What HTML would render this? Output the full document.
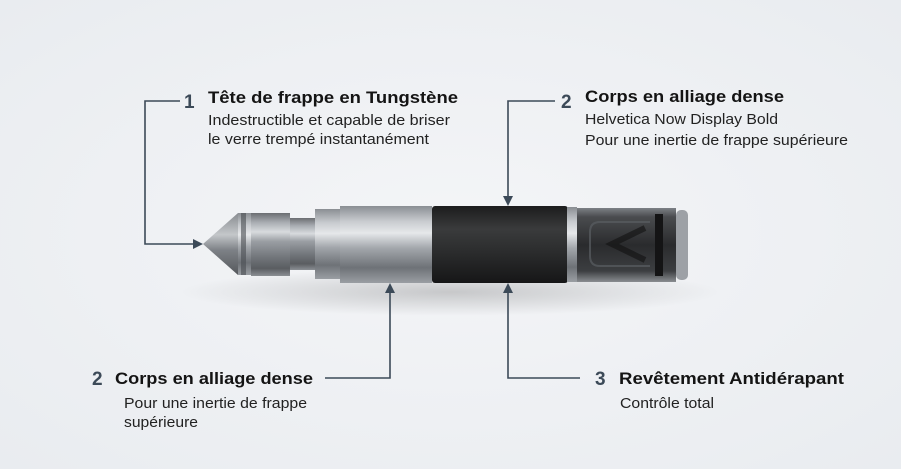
<!DOCTYPE html>
<html><head><meta charset="utf-8"><style>
html,body{margin:0;padding:0;width:901px;height:469px;overflow:hidden;background:#eef0f3}
svg{display:block}
text{font-family:"Liberation Sans",sans-serif}
</style></head><body>
<svg width="901" height="469" viewBox="0 0 901 469" xmlns="http://www.w3.org/2000/svg">
<defs>
<radialGradient id="bg" cx="50%" cy="50%" r="70%"><stop offset="0" stop-color="#f4f5f7"/><stop offset="1" stop-color="#e9ecf0"/></radialGradient>
<linearGradient id="met" x1="0" y1="0" x2="0" y2="1">
<stop offset="0" stop-color="#6b6e72"/><stop offset="0.15" stop-color="#a9adb2"/><stop offset="0.3" stop-color="#d8dbde"/><stop offset="0.45" stop-color="#9a9ea3"/><stop offset="0.7" stop-color="#72767b"/><stop offset="0.88" stop-color="#5a5d61"/><stop offset="1" stop-color="#8b8f94"/></linearGradient>
<linearGradient id="met2" x1="0" y1="0" x2="0" y2="1">
<stop offset="0" stop-color="#8a8e93"/><stop offset="0.2" stop-color="#c9ccd0"/><stop offset="0.35" stop-color="#e6e8ea"/><stop offset="0.55" stop-color="#a2a6ab"/><stop offset="0.8" stop-color="#6e7277"/><stop offset="1" stop-color="#9a9ea3"/></linearGradient>
<linearGradient id="blk" x1="0" y1="0" x2="0" y2="1">
<stop offset="0" stop-color="#1c1c1d"/><stop offset="0.3" stop-color="#3a3b3c"/><stop offset="0.6" stop-color="#2b2c2d"/><stop offset="1" stop-color="#161617"/></linearGradient>
<linearGradient id="clr" x1="0" y1="0" x2="0" y2="1">
<stop offset="0" stop-color="#7d8186"/><stop offset="0.12" stop-color="#4a4c4f"/><stop offset="0.5" stop-color="#2a2b2d"/><stop offset="0.85" stop-color="#3c3e41"/><stop offset="1" stop-color="#8a8d91"/></linearGradient>
<linearGradient id="cone" x1="0" y1="0" x2="0" y2="1">
<stop offset="0" stop-color="#888c90"/><stop offset="0.35" stop-color="#c4c7ca"/><stop offset="0.6" stop-color="#7d8186"/><stop offset="1" stop-color="#55585c"/></linearGradient>
<radialGradient id="sh" cx="50%" cy="50%" r="50%"><stop offset="0" stop-color="#000" stop-opacity="0.18"/><stop offset="1" stop-color="#000" stop-opacity="0"/></radialGradient>
</defs>
<rect width="901" height="469" fill="url(#bg)"/>
<ellipse cx="450" cy="292" rx="270" ry="24" fill="url(#sh)"/>
<polygon points="203,244 238,213 238,275" fill="url(#cone)"/>
<rect x="238" y="213" width="13" height="62" fill="url(#met2)"/>
<rect x="241" y="213" width="5" height="62" fill="#4a4d51" opacity="0.6"/>
<rect x="251" y="213" width="39" height="63" fill="url(#met)"/>
<rect x="290" y="218" width="25" height="52" fill="url(#met)"/>
<rect x="315" y="209" width="25" height="70" fill="url(#met2)"/>
<rect x="340" y="206" width="92" height="77" fill="url(#met2)"/>
<rect x="432" y="206" width="136" height="77" rx="3" fill="url(#blk)"/>
<rect x="567" y="207" width="10" height="75" fill="url(#met2)"/>
<rect x="577" y="208" width="99" height="74" fill="url(#clr)"/>
<path d="M650 222 H600 Q590 222 590 232 V256 Q590 266 600 266 H650" fill="none" stroke="#5a5e63" stroke-width="2" opacity="0.7"/>
<path d="M645 228 L612 244 L645 260" fill="none" stroke="#111" stroke-width="6" opacity="0.6"/>
<rect x="655" y="214" width="8" height="62" fill="#141415"/>
<rect x="676" y="210" width="12" height="70" rx="5" fill="#9da1a6"/>
<g stroke="#3c4a58" stroke-width="1.6" fill="none">
<polyline points="180,101 145,101 145,244 196,244"/>
<polyline points="555,101 508,101 508,198"/>
<polyline points="325,378 390,378 390,291"/>
<polyline points="508,291 508,378 580,378"/>
</g>
<g fill="#3c4a58">
<polygon points="203,244 193,239 193,249"/>
<polygon points="508,206 503,196 513,196"/>
<polygon points="390,283 385,293 395,293"/>
<polygon points="508,283 503,293 513,293"/>
</g>
<text x="184" y="108" font-size="19" font-weight="bold" fill="#3c4a58">1</text>
<text x="208" y="103" font-size="17" font-weight="bold" fill="#141414" textLength="250" lengthAdjust="spacingAndGlyphs">Tête de frappe en Tungstène</text>
<text x="208" y="125" font-size="15" fill="#222" textLength="242" lengthAdjust="spacingAndGlyphs">Indestructible et capable de briser</text>
<text x="208" y="144" font-size="15" fill="#222" textLength="221" lengthAdjust="spacingAndGlyphs">le verre trempé instantanément</text>

<text x="561" y="108" font-size="19" font-weight="bold" fill="#3c4a58">2</text>
<text x="585" y="102" font-size="17" font-weight="bold" fill="#141414" textLength="199" lengthAdjust="spacingAndGlyphs">Corps en alliage dense</text>
<text x="585" y="124" font-size="15" fill="#222" textLength="193" lengthAdjust="spacingAndGlyphs">Helvetica Now Display Bold</text>
<text x="585" y="145" font-size="15" fill="#222" textLength="263" lengthAdjust="spacingAndGlyphs">Pour une inertie de frappe supérieure</text>

<text x="92" y="385" font-size="19" font-weight="bold" fill="#3c4a58">2</text>
<text x="115" y="384" font-size="17" font-weight="bold" fill="#141414" textLength="198" lengthAdjust="spacingAndGlyphs">Corps en alliage dense</text>
<text x="124" y="408" font-size="14.5" fill="#222" textLength="183" lengthAdjust="spacingAndGlyphs">Pour une inertie de frappe</text>
<text x="124" y="427" font-size="14.5" fill="#222" textLength="74" lengthAdjust="spacingAndGlyphs">supérieure</text>

<text x="595" y="385" font-size="19" font-weight="bold" fill="#3c4a58">3</text>
<text x="619" y="384" font-size="17" font-weight="bold" fill="#141414" textLength="225" lengthAdjust="spacingAndGlyphs">Revêtement Antidérapant</text>
<text x="620" y="408" font-size="14.5" fill="#222" textLength="94" lengthAdjust="spacingAndGlyphs">Contrôle total</text>
</svg>
</body></html>
